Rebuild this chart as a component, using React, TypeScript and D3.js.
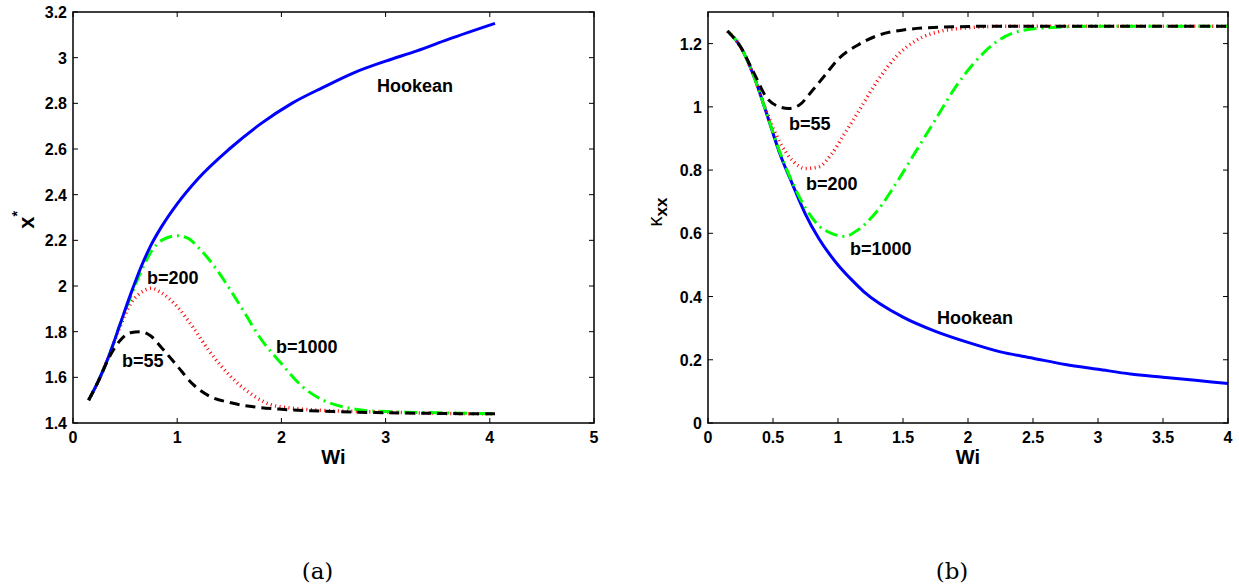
import React, { useEffect, useRef } from 'react';
import * as d3 from 'd3';

// panel (a): x* vs Wi
const wiHookA = [0.15, 0.25, 0.35, 0.45, 0.55, 0.65, 0.75, 0.85, 1.0, 1.2, 1.5, 1.8, 2.1, 2.4, 2.7, 3.0, 3.3, 3.6, 4.05];
const xHookA = [1.5, 1.59, 1.7, 1.83, 1.96, 2.08, 2.18, 2.26, 2.36, 2.47, 2.6, 2.71, 2.8, 2.87, 2.935, 2.985, 3.03, 3.08, 3.15];
const wi1000A = [0.15, 0.25, 0.35, 0.45, 0.55, 0.65, 0.75, 0.85, 1.0, 1.1, 1.2, 1.35, 1.5, 1.65, 1.8, 2.0, 2.2, 2.4, 2.6, 2.8, 3.0, 3.5, 4.05];
const x1000A = [1.5, 1.59, 1.7, 1.83, 1.95, 2.06, 2.15, 2.2, 2.22, 2.21, 2.17, 2.09, 1.99, 1.88, 1.77, 1.66, 1.56, 1.5, 1.47, 1.455, 1.45, 1.445, 1.44];
const wi200A = [0.15, 0.25, 0.35, 0.45, 0.55, 0.65, 0.75, 0.85, 1.0, 1.15, 1.3, 1.5, 1.7, 1.9, 2.1, 2.4, 2.8, 3.2, 4.05];
const x200A = [1.5, 1.59, 1.7, 1.82, 1.92, 1.97, 1.99, 1.97, 1.91, 1.82, 1.72, 1.61, 1.53, 1.48, 1.465, 1.455, 1.45, 1.445, 1.44];
const wi55A = [0.15, 0.25, 0.35, 0.45, 0.55, 0.65, 0.75, 0.85, 1.0, 1.15, 1.3, 1.5, 1.75, 2.0, 2.5, 3.0, 4.05];
const x55A = [1.5, 1.59, 1.69, 1.76, 1.795, 1.8, 1.78, 1.73, 1.65, 1.57, 1.52, 1.49, 1.47, 1.46, 1.45, 1.445, 1.44];

// panel (b): kappa_xx vs Wi
const wiHookB = [0.15, 0.25, 0.35, 0.45, 0.55, 0.65, 0.75, 0.85, 1.0, 1.1, 1.2, 1.5, 1.75, 2.0, 2.25, 2.5, 2.75, 3.0, 3.25, 3.5, 3.75, 4.0];
const kHookB = [1.24, 1.19, 1.1, 0.98, 0.855, 0.755, 0.66, 0.585, 0.5, 0.455, 0.415, 0.335, 0.29, 0.255, 0.225, 0.205, 0.185, 0.17, 0.155, 0.145, 0.135, 0.125];
const wi1000B = [0.15, 0.25, 0.35, 0.45, 0.55, 0.65, 0.75, 0.85, 0.95, 1.05, 1.15, 1.3, 1.45, 1.6, 1.75, 1.9, 2.05, 2.2, 2.4, 2.6, 3.0, 3.5, 4.0];
const k1000B = [1.24, 1.19, 1.1, 0.98, 0.86, 0.76, 0.68, 0.625, 0.6, 0.59, 0.61, 0.67, 0.76, 0.86, 0.96, 1.06, 1.14, 1.2, 1.24, 1.25, 1.255, 1.255, 1.255];
const wi200B = [0.15, 0.25, 0.35, 0.45, 0.55, 0.65, 0.75, 0.85, 0.95, 1.05, 1.15, 1.3, 1.45, 1.6, 1.8, 2.0, 2.3, 2.6, 3.0, 3.5, 4.0];
const k200B = [1.24, 1.19, 1.1, 0.985, 0.89, 0.83, 0.805, 0.81, 0.85, 0.915, 0.98, 1.08, 1.16, 1.21, 1.24, 1.25, 1.255, 1.255, 1.255, 1.255, 1.255];
const wi55B = [0.15, 0.25, 0.35, 0.45, 0.55, 0.62, 0.7, 0.8, 0.9, 1.0, 1.15, 1.3, 1.5, 1.8, 2.2, 3.0, 4.0];
const k55B = [1.24, 1.19, 1.11, 1.03, 1.0, 0.995, 1.005, 1.05, 1.1, 1.15, 1.195, 1.225, 1.243, 1.252, 1.255, 1.255, 1.255];

const ticksXA = [0, 1, 2, 3, 4, 5];
const ticksYA = [1.4, 1.6, 1.8, 2, 2.2, 2.4, 2.6, 2.8, 3, 3.2];
const ticksXB = [0, 0.5, 1, 1.5, 2, 2.5, 3, 3.5, 4];
const ticksYB = [0, 0.2, 0.4, 0.6, 0.8, 1, 1.2];

const SANS = '"Liberation Sans", Arial, Helvetica, sans-serif';

const styles = {
  hook: { color: '#0000ff', dash: null },
  b1000: { color: '#00ff00', dash: '13,5,2,5' },
  b200: { color: '#ff0000', dash: '1,3.5' },
  b55: { color: '#000000', dash: '10,6' },
};

const App = () => {
  const ref = useRef(null);

  useEffect(() => {
    const svg = d3.select(ref.current);
    svg.selectAll('*').remove();

    const drawPanel = (xs, ys, xt, yt, fmt, series, labels, xlab, ylab, cap) => {
      const [l, r] = xs.range();
      const [b, t] = ys.range();
      const g = svg.append('g');

      const line = d3.line().x(d => xs(d[0])).y(d => ys(d[1])).curve(d3.curveMonotoneX);
      series.forEach(s => {
        const pts = s.x.map((v, i) => [v, s.y[i]]);
        const p = g.append('path')
          .attr('d', line(pts))
          .attr('fill', 'none')
          .attr('stroke', s.st.color)
          .attr('stroke-width', s.w || 3);
        if (s.st.dash) p.attr('stroke-dasharray', s.st.dash);
      });

      g.append('rect').attr('x', l).attr('y', t).attr('width', r - l).attr('height', b - t)
        .attr('fill', 'none').attr('stroke', '#000').attr('stroke-width', 1.5);

      xt.forEach(v => {
        g.append('line').attr('x1', xs(v)).attr('x2', xs(v)).attr('y1', b).attr('y2', b - 5).attr('stroke', '#000');
        g.append('line').attr('x1', xs(v)).attr('x2', xs(v)).attr('y1', t).attr('y2', t + 5).attr('stroke', '#000');
        g.append('text').attr('x', xs(v)).attr('y', b + 20).attr('text-anchor', 'middle')
          .attr('font-family', SANS).attr('font-weight', 'bold').attr('font-size', 16).text(fmt(v));
      });
      yt.forEach(v => {
        g.append('line').attr('x1', l).attr('x2', l + 5).attr('y1', ys(v)).attr('y2', ys(v)).attr('stroke', '#000');
        g.append('line').attr('x1', r).attr('x2', r - 5).attr('y1', ys(v)).attr('y2', ys(v)).attr('stroke', '#000');
        g.append('text').attr('x', l - 6).attr('y', ys(v) + 6).attr('text-anchor', 'end')
          .attr('font-family', SANS).attr('font-weight', 'bold').attr('font-size', 16).text(fmt(v));
      });

      labels.forEach(lb => {
        g.append('text').attr('x', lb[1]).attr('y', lb[2])
          .attr('font-family', SANS).attr('font-weight', 'bold').attr('font-size', 18).text(lb[0]);
      });

      g.append('text').attr('x', (l + r) / 2).attr('y', b + 41).attr('text-anchor', 'middle')
        .attr('font-family', SANS).attr('font-weight', 'bold').attr('font-size', 20).text(xlab);

      ylab(g);

      g.append('text').attr('x', (l + r) / 2 - 16).attr('y', 579).attr('text-anchor', 'middle')
        .attr('font-family', '"DejaVu Serif", "Liberation Serif", serif').attr('font-size', 23).text(cap);
    };

    const xA = d3.scaleLinear().domain([0, 5]).range([73, 594]);
    const yA = d3.scaleLinear().domain([1.4, 3.2]).range([423, 12]);
    const xB = d3.scaleLinear().domain([0, 4]).range([708, 1228]);
    const yB = d3.scaleLinear().domain([0, 1.3]).range([423, 12]);

    const trim = d3.format('~g');

    drawPanel(xA, yA, ticksXA, ticksYA, trim,
      [
        { x: wi200A, y: x200A, st: styles.b200, w: 3.5 },
        { x: wi1000A, y: x1000A, st: styles.b1000 },
        { x: wiHookA, y: xHookA, st: styles.hook },
        { x: wi55A, y: x55A, st: styles.b55 },
      ],
      [['Hookean', 377, 92], ['b=200', 147, 284], ['b=55', 122, 367], ['b=1000', 276, 353]],
      'Wi',
      g => {
        const tx = g.append('text').attr('transform', 'translate(34,220) rotate(-90)')
          .attr('text-anchor', 'middle').attr('font-family', SANS).attr('font-weight', 'bold');
        tx.append('tspan').attr('font-size', 22).text('x');
        tx.append('tspan').attr('font-size', 14).attr('dy', -12).text('*');
      },
      '(a)');

    drawPanel(xB, yB, ticksXB, ticksYB, trim,
      [
        { x: wiHookB, y: kHookB, st: styles.hook },
        { x: wi200B, y: k200B, st: styles.b200, w: 3.5 },
        { x: wi1000B, y: k1000B, st: styles.b1000 },
        { x: wi55B, y: k55B, st: styles.b55 },
      ],
      [['b=55', 789, 130], ['b=200', 806, 190], ['b=1000', 850, 255], ['Hookean', 937, 324]],
      'Wi',
      g => {
        const tx = g.append('text').attr('transform', 'translate(662,212) rotate(-90)')
          .attr('text-anchor', 'middle').attr('font-family', SANS);
        tx.append('tspan').attr('font-size', 20).text('κ');
        tx.append('tspan').attr('font-size', 17).attr('font-weight', 'bold').attr('dy', 5).text('xx');
      },
      '(b)');
  }, []);

  return (
    <svg ref={ref} width={1239} height={588}
      style={{ position: 'absolute', left: 0, top: 0, background: '#fff' }} />
  );
};

export default App;
